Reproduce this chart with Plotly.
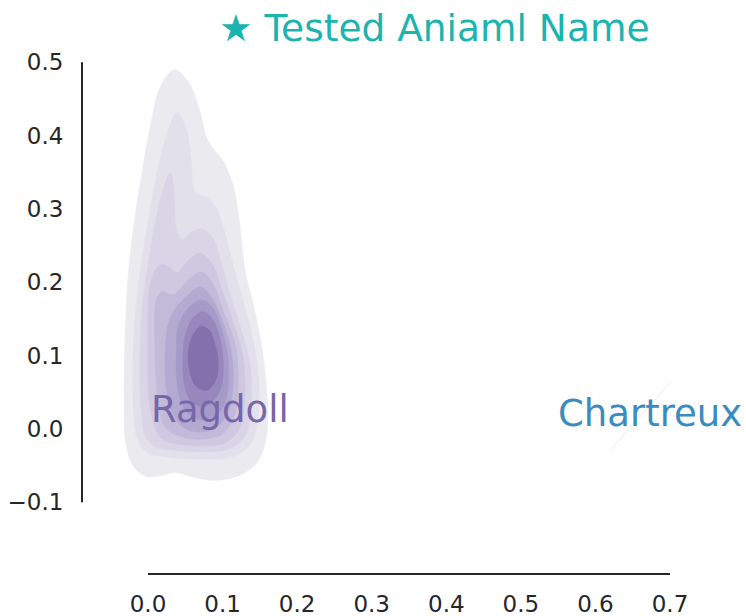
import plotly.graph_objects as go

# ---- data: KDE contour outlines of the "Ragdoll" sample (outer -> inner) ----
ragdoll_l1_x = [0.036, 0.056, 0.070, 0.080, 0.102, 0.115, 0.123, 0.130, 0.143, 0.153, 0.160, 0.158, 0.146, 0.121, 0.087, 0.059, 0.036, 0.016, -0.004, -0.020, -0.030, -0.032, -0.031, -0.027, -0.019, -0.008, 0.004, 0.017]
ragdoll_l1_y = [0.490, 0.470, 0.432, 0.394, 0.363, 0.329, 0.278, 0.217, 0.162, 0.108, 0.040, -0.015, -0.046, -0.064, -0.070, -0.065, -0.059, -0.064, -0.064, -0.050, -0.018, 0.040, 0.115, 0.203, 0.278, 0.350, 0.417, 0.468]

ragdoll_l2_x = [0.039, 0.051, 0.058, 0.063, 0.078, 0.091, 0.102, 0.114, 0.129, 0.141, 0.148, 0.148, 0.138, 0.115, 0.076, 0.046, 0.019, -0.003, -0.015, -0.020, -0.020, -0.015, -0.004, 0.009, 0.023]
ragdoll_l2_y = [0.431, 0.410, 0.367, 0.323, 0.316, 0.303, 0.271, 0.224, 0.169, 0.121, 0.074, 0.019, -0.019, -0.037, -0.041, -0.040, -0.037, -0.031, -0.011, 0.040, 0.101, 0.176, 0.258, 0.333, 0.394]

ragdoll_l3_x = [0.030, 0.035, 0.038, 0.046, 0.059, 0.072, 0.087, 0.098, 0.110, 0.125, 0.137, 0.138, 0.131, 0.110, 0.070, 0.036, 0.012, -0.003, -0.009, -0.011, -0.008, 0.000, 0.009, 0.020]
ragdoll_l3_y = [0.350, 0.319, 0.271, 0.258, 0.269, 0.273, 0.260, 0.228, 0.183, 0.135, 0.087, 0.033, -0.008, -0.027, -0.031, -0.029, -0.025, -0.011, 0.026, 0.094, 0.162, 0.224, 0.278, 0.326]

ragdoll_l4_x = [0.003, 0.016, 0.030, 0.039, 0.054, 0.070, 0.086, 0.099, 0.114, 0.127, 0.130, 0.123, 0.105, 0.070, 0.040, 0.019, 0.007, 0.001, 0.000, 0.000]
ragdoll_l4_y = [0.196, 0.224, 0.220, 0.213, 0.230, 0.240, 0.225, 0.190, 0.146, 0.101, 0.046, 0.001, -0.018, -0.023, -0.020, -0.014, 0.010, 0.046, 0.101, 0.155]

ragdoll_l5_x = [0.011, 0.019, 0.034, 0.054, 0.072, 0.087, 0.101, 0.117, 0.121, 0.115, 0.099, 0.070, 0.043, 0.024, 0.015, 0.011, 0.009]
ragdoll_l5_y = [0.176, 0.187, 0.183, 0.203, 0.214, 0.198, 0.160, 0.115, 0.060, 0.015, -0.007, -0.014, -0.010, 0.001, 0.026, 0.067, 0.135]

ragdoll_l6_x = [0.027, 0.038, 0.052, 0.070, 0.084, 0.099, 0.111, 0.114, 0.107, 0.090, 0.067, 0.046, 0.031, 0.024, 0.023]
ragdoll_l6_y = [0.142, 0.166, 0.181, 0.194, 0.181, 0.149, 0.108, 0.060, 0.022, 0.001, -0.004, 0.003, 0.026, 0.060, 0.101]

ragdoll_l7_x = [0.040, 0.054, 0.072, 0.087, 0.099, 0.107, 0.107, 0.098, 0.076, 0.056, 0.043, 0.038, 0.038]
ragdoll_l7_y = [0.138, 0.165, 0.176, 0.165, 0.135, 0.098, 0.053, 0.026, 0.012, 0.019, 0.042, 0.074, 0.108]

ragdoll_l8_x = [0.050, 0.060, 0.074, 0.087, 0.097, 0.101, 0.098, 0.086, 0.070, 0.055, 0.048, 0.047]
ragdoll_l8_y = [0.128, 0.151, 0.160, 0.149, 0.121, 0.091, 0.057, 0.037, 0.031, 0.042, 0.067, 0.101]

ragdoll_l9_x = [0.059, 0.070, 0.082, 0.090, 0.094, 0.091, 0.079, 0.064, 0.056, 0.054]
ragdoll_l9_y = [0.125, 0.140, 0.135, 0.115, 0.091, 0.067, 0.053, 0.059, 0.078, 0.105]

# degenerate "Chartreux" density (a faint sliver)
chartreux_x = [0.620, 0.700]
chartreux_y = [-0.029, 0.063]

level_colors = ["#ebeaee", "#e2e0ea", "#d9d5e6", "#cec9e1", "#c1bad9", "#b3aad1",
                "#a69bc8", "#9787bd", "#8371ad"]

x_ticks = [0.0, 0.1, 0.2, 0.3, 0.4, 0.5, 0.6, 0.7]
x_tick_text = ["0.0", "0.1", "0.2", "0.3", "0.4", "0.5", "0.6", "0.7"]
y_ticks = [-0.1, 0.0, 0.1, 0.2, 0.3, 0.4, 0.5]
y_tick_text = ["\u22120.1", "0.0", "0.1", "0.2", "0.3", "0.4", "0.5"]

title_text = "\u2605 Tested Aniaml Name"
labels = ["Ragdoll", "Chartreux"]
label_colors = ["#7766aa", "#3a8bbf"]
label_x = [0.002, 0.547]
label_y = [0.026, 0.021]

FONT = "DejaVu Sans"

levels = [
    (ragdoll_l1_x, ragdoll_l1_y), (ragdoll_l2_x, ragdoll_l2_y), (ragdoll_l3_x, ragdoll_l3_y),
    (ragdoll_l4_x, ragdoll_l4_y), (ragdoll_l5_x, ragdoll_l5_y), (ragdoll_l6_x, ragdoll_l6_y),
    (ragdoll_l7_x, ragdoll_l7_y), (ragdoll_l8_x, ragdoll_l8_y), (ragdoll_l9_x, ragdoll_l9_y),
]

fig = go.Figure()
for (lx, ly), col in zip(levels, level_colors):
    fig.add_trace(go.Scatter(
        x=lx + lx[:1], y=ly + ly[:1], mode="lines", fill="toself",
        fillcolor=col, line=dict(color=col, width=0.6, shape="spline", smoothing=1.0),
        hoverinfo="skip", showlegend=False))

fig.add_trace(go.Scatter(x=chartreux_x, y=chartreux_y, mode="lines",
                         line=dict(color="rgba(190,215,235,0.45)", width=1),
                         hoverinfo="skip", showlegend=False))

for t, c, x, y in zip(labels, label_colors, label_x, label_y):
    fig.add_annotation(x=x, y=y, xref="x", yref="y", text=t, showarrow=False,
                       xanchor="left", yanchor="middle",
                       font=dict(family=FONT, size=37, color=c))

fig.add_annotation(x=0.599, y=1.063, xref="paper", yref="paper", text=title_text,
                   showarrow=False, xanchor="center", yanchor="middle",
                   font=dict(family=FONT, size=37.5, color="#1bb4ae"))

# offset, trimmed spines
fig.add_shape(type="line", xref="paper", yref="y", x0=0, x1=0, y0=-0.1, y1=0.5,
              line=dict(color="#262626", width=2))
fig.add_shape(type="line", xref="x", yref="paper", x0=0.0, x1=0.7, y0=0, y1=0,
              line=dict(color="#262626", width=2))

fig.update_layout(
    width=746, height=616,
    margin=dict(l=82, r=76, t=60, b=42, autoexpand=False),
    paper_bgcolor="white", plot_bgcolor="white",
    font=dict(family=FONT, size=23, color="#262626"),
    showlegend=False,
    xaxis=dict(range=[-0.0885, 0.7], tickvals=x_ticks, ticktext=x_tick_text,
               showgrid=False, zeroline=False, showline=False, automargin=False,
               ticks="outside", ticklen=9, tickcolor="rgba(0,0,0,0)",
               tickfont=dict(family=FONT, size=23, color="#262626")),
    yaxis=dict(range=[-0.1977, 0.5032], tickvals=y_ticks, ticktext=y_tick_text,
               showgrid=False, zeroline=False, showline=False, automargin=False,
               ticks="outside", ticklen=13, tickcolor="rgba(0,0,0,0)",
               tickfont=dict(family=FONT, size=23, color="#262626")),
)

fig.write_html("out.html", config={"displayModeBar": False},
               post_script="document.body.style.margin='0px';")
